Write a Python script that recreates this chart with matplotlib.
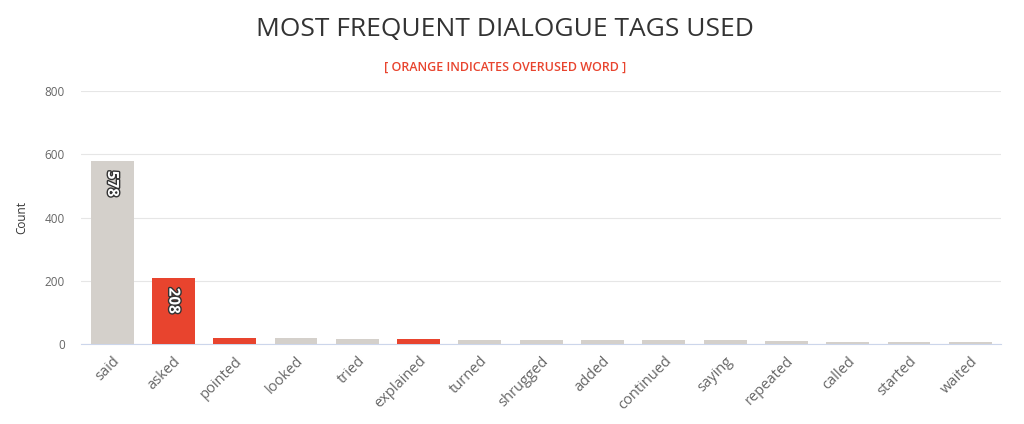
import matplotlib
matplotlib.use("Agg")
import matplotlib.pyplot as plt
import matplotlib.patheffects as pe

plt.rcParams['font.family'] = ['Open Sans', 'DejaVu Sans']

# Data
tags = ["said", "asked", "pointed", "looked", "tried", "explained", "turned",
        "shrugged", "added", "continued", "saying", "repeated", "called",
        "started", "waited"]
counts = [578, 208, 20, 17, 14, 14, 13, 13, 11, 11, 11, 8, 5, 5, 5]
overused = ["asked", "pointed", "explained"]

grey = "#d4d0cb"
red = "#e8442e"
colors = [red if t in overused else grey for t in tags]

fig = plt.figure(figsize=(10.24, 4.24), dpi=100)
ax = fig.add_axes([0.0795, 0.189, 0.898, 0.596])

x = list(range(len(tags)))
bars = ax.bar(x, counts, width=0.7, color=colors, zorder=3)

# value labels inside the two large bars
for b, v in zip(bars, counts):
    if v > 100:
        ax.text(b.get_x() + b.get_width() / 2, v - 30, str(v),
                rotation=-90, ha="center", va="top", fontsize=11,
                fontweight="bold", color="white", zorder=4,
                path_effects=[pe.withStroke(linewidth=2, foreground="#333333")])

ax.set_xlim(-0.5, len(tags) - 0.5)
ax.set_ylim(0, 800)
ax.set_yticks([0, 200, 400, 600, 800])
ax.yaxis.grid(True, color="#e6e6e6", linewidth=0.8, zorder=0)
ax.set_xticks(x)
ax.set_xticklabels(tags, rotation=45, ha="right", rotation_mode="anchor",
                   fontsize=10.5, color="#666666")
ax.tick_params(axis="x", length=0, pad=7)
ax.tick_params(axis="y", length=0, labelsize=8.5, labelcolor="#666666", pad=12)
for s in ["top", "right", "left"]:
    ax.spines[s].set_visible(False)
ax.spines["bottom"].set_color("#ccd6eb")
ax.set_ylabel("Count", fontsize=8.5, color="#333333")
ax.yaxis.set_label_coords(-0.058, 0.5)

fig.text(0.493, 0.93, "MOST FREQUENT DIALOGUE TAGS USED", ha="center",
         va="center", fontsize=19, color="#333333")
fig.text(0.493, 0.842, "[ ORANGE INDICATES OVERUSED WORD ]", ha="center",
         va="center", fontsize=9, fontweight="semibold", color="#e8442e")

fig.savefig("out.png", dpi=100, facecolor="white")
